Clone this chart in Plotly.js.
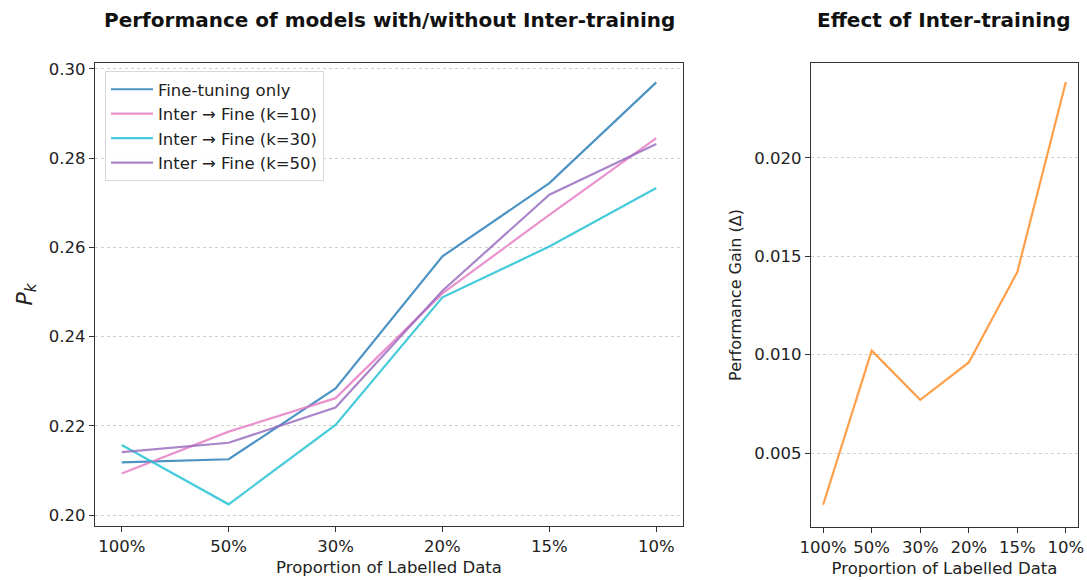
<!DOCTYPE html>
<html>
<head>
<meta charset="utf-8">
<script src="https://cdn.plot.ly/plotly-3.0.1.min.js"></script>
<style>html,body{margin:0;padding:0;background:#fff;}#chart{width:1087px;height:580px;}</style>
</head>
<body>
<div id="chart"></div>
<script>
const categories = ["100%", "50%", "30%", "20%", "15%", "10%"];
const fineTuningOnly = [0.2118, 0.2125, 0.2284, 0.2580, 0.2744, 0.2970];
const interK10 = [0.2093, 0.2187, 0.2262, 0.2497, 0.2673, 0.2845];
const interK30 = [0.2157, 0.2024, 0.2202, 0.2488, 0.2602, 0.2733];
const interK50 = [0.2141, 0.2162, 0.2241, 0.2503, 0.2718, 0.2832];
const performanceGain = [0.00237, 0.0102, 0.0077, 0.0096, 0.0142, 0.02385];
const seriesNames = ["Fine-tuning only", "Inter → Fine (k=10)", "Inter → Fine (k=30)", "Inter → Fine (k=50)"];

const colors = ["rgba(31,119,180,0.8)", "rgba(227,119,194,0.8)", "rgba(23,190,207,0.8)", "rgba(148,103,189,0.8)"];
const leftSeries = [fineTuningOnly, interK10, interK30, interK50];

const traces = leftSeries.map((ys, i) => ({
  x: categories, y: ys, type: "scatter", mode: "lines", name: seriesNames[i],
  line: {color: colors[i], width: 2.2}, xaxis: "x", yaxis: "y"
}));
traces.push({
  x: categories, y: performanceGain, type: "scatter", mode: "lines", name: "gain",
  showlegend: false, line: {color: "rgba(255,127,14,0.75)", width: 2.2}, xaxis: "x2", yaxis: "y2"
});

const W = 1087, H = 580;
const FF = "DejaVu Sans, sans-serif";
const font = {family: FF, size: 17, color: "#222"};
const axisCommon = {
  showline: true, mirror: true, linecolor: "#333", linewidth: 1.3,
  ticks: "outside", ticklen: 5, tickcolor: "#333", tickwidth: 1,
  zeroline: false, tickfont: {family: FF, size: 16.5, color: "#222"}
};
const layout = {
  width: W, height: H, margin: {l: 0, r: 0, t: 0, b: 0},
  paper_bgcolor: "#fff", plot_bgcolor: "#fff", font: font,
  showlegend: true,
  legend: {x: 105 / W, y: (H - 71) / H, xanchor: "left", yanchor: "top",
    bordercolor: "#d8d8d8", borderwidth: 1, bgcolor: "rgba(255,255,255,0.85)",
    itemwidth: 42,
    font: {family: FF, size: 16.5, color: "#222"}, tracegroupgap: 0},
  xaxis: Object.assign({}, axisCommon, {domain: [95 / W, 683 / W], anchor: "y", type: "category",
    range: [-0.25, 5.25], showgrid: false,
    title: {text: "Proportion of Labelled Data", font: {family: FF, size: 16.5, color: "#222"}, standoff: 6}}),
  yaxis: Object.assign({}, axisCommon, {domain: [(H - 526) / H, (H - 63) / H], anchor: "x",
    range: [0.19754, 0.30134], dtick: 0.02, tickformat: ".2f",
    showgrid: true, gridcolor: "#cfcfcf", griddash: "dot", gridwidth: 1,
    title: {text: "<i>P</i><sub><i>k</i></sub>", font: {family: FF, size: 22, color: "#222"}, standoff: 10}}),
  xaxis2: Object.assign({}, axisCommon, {domain: [811 / W, 1078 / W], anchor: "y2", type: "category",
    range: [-0.25, 5.25], showgrid: false,
    title: {text: "Proportion of Labelled Data", font: {family: FF, size: 16.5, color: "#222"}, standoff: 6}}),
  yaxis2: Object.assign({}, axisCommon, {domain: [(H - 527) / H, (H - 63) / H], anchor: "x2",
    range: [0.00124, 0.02482], dtick: 0.005, tickformat: ".3f",
    showgrid: true, gridcolor: "#cfcfcf", griddash: "dot", gridwidth: 1,
    title: {text: "Performance Gain (Δ)", font: {family: FF, size: 16, color: "#222"}, standoff: 8}}),
  annotations: [
    {text: "<b>Performance of models with/without Inter-training</b>", xref: "paper", yref: "paper",
      x: 389 / W, y: (H - 20) / H, xanchor: "center", yanchor: "middle", showarrow: false,
      font: {family: FF, size: 20, color: "#111"}},
    {text: "<b>Effect of Inter-training</b>", xref: "paper", yref: "paper",
      x: 944 / W, y: (H - 20) / H, xanchor: "center", yanchor: "middle", showarrow: false,
      font: {family: FF, size: 20, color: "#111"}}
  ]
};
Plotly.newPlot("chart", traces, layout, {displayModeBar: false, staticPlot: true});
</script>
</body>
</html>
